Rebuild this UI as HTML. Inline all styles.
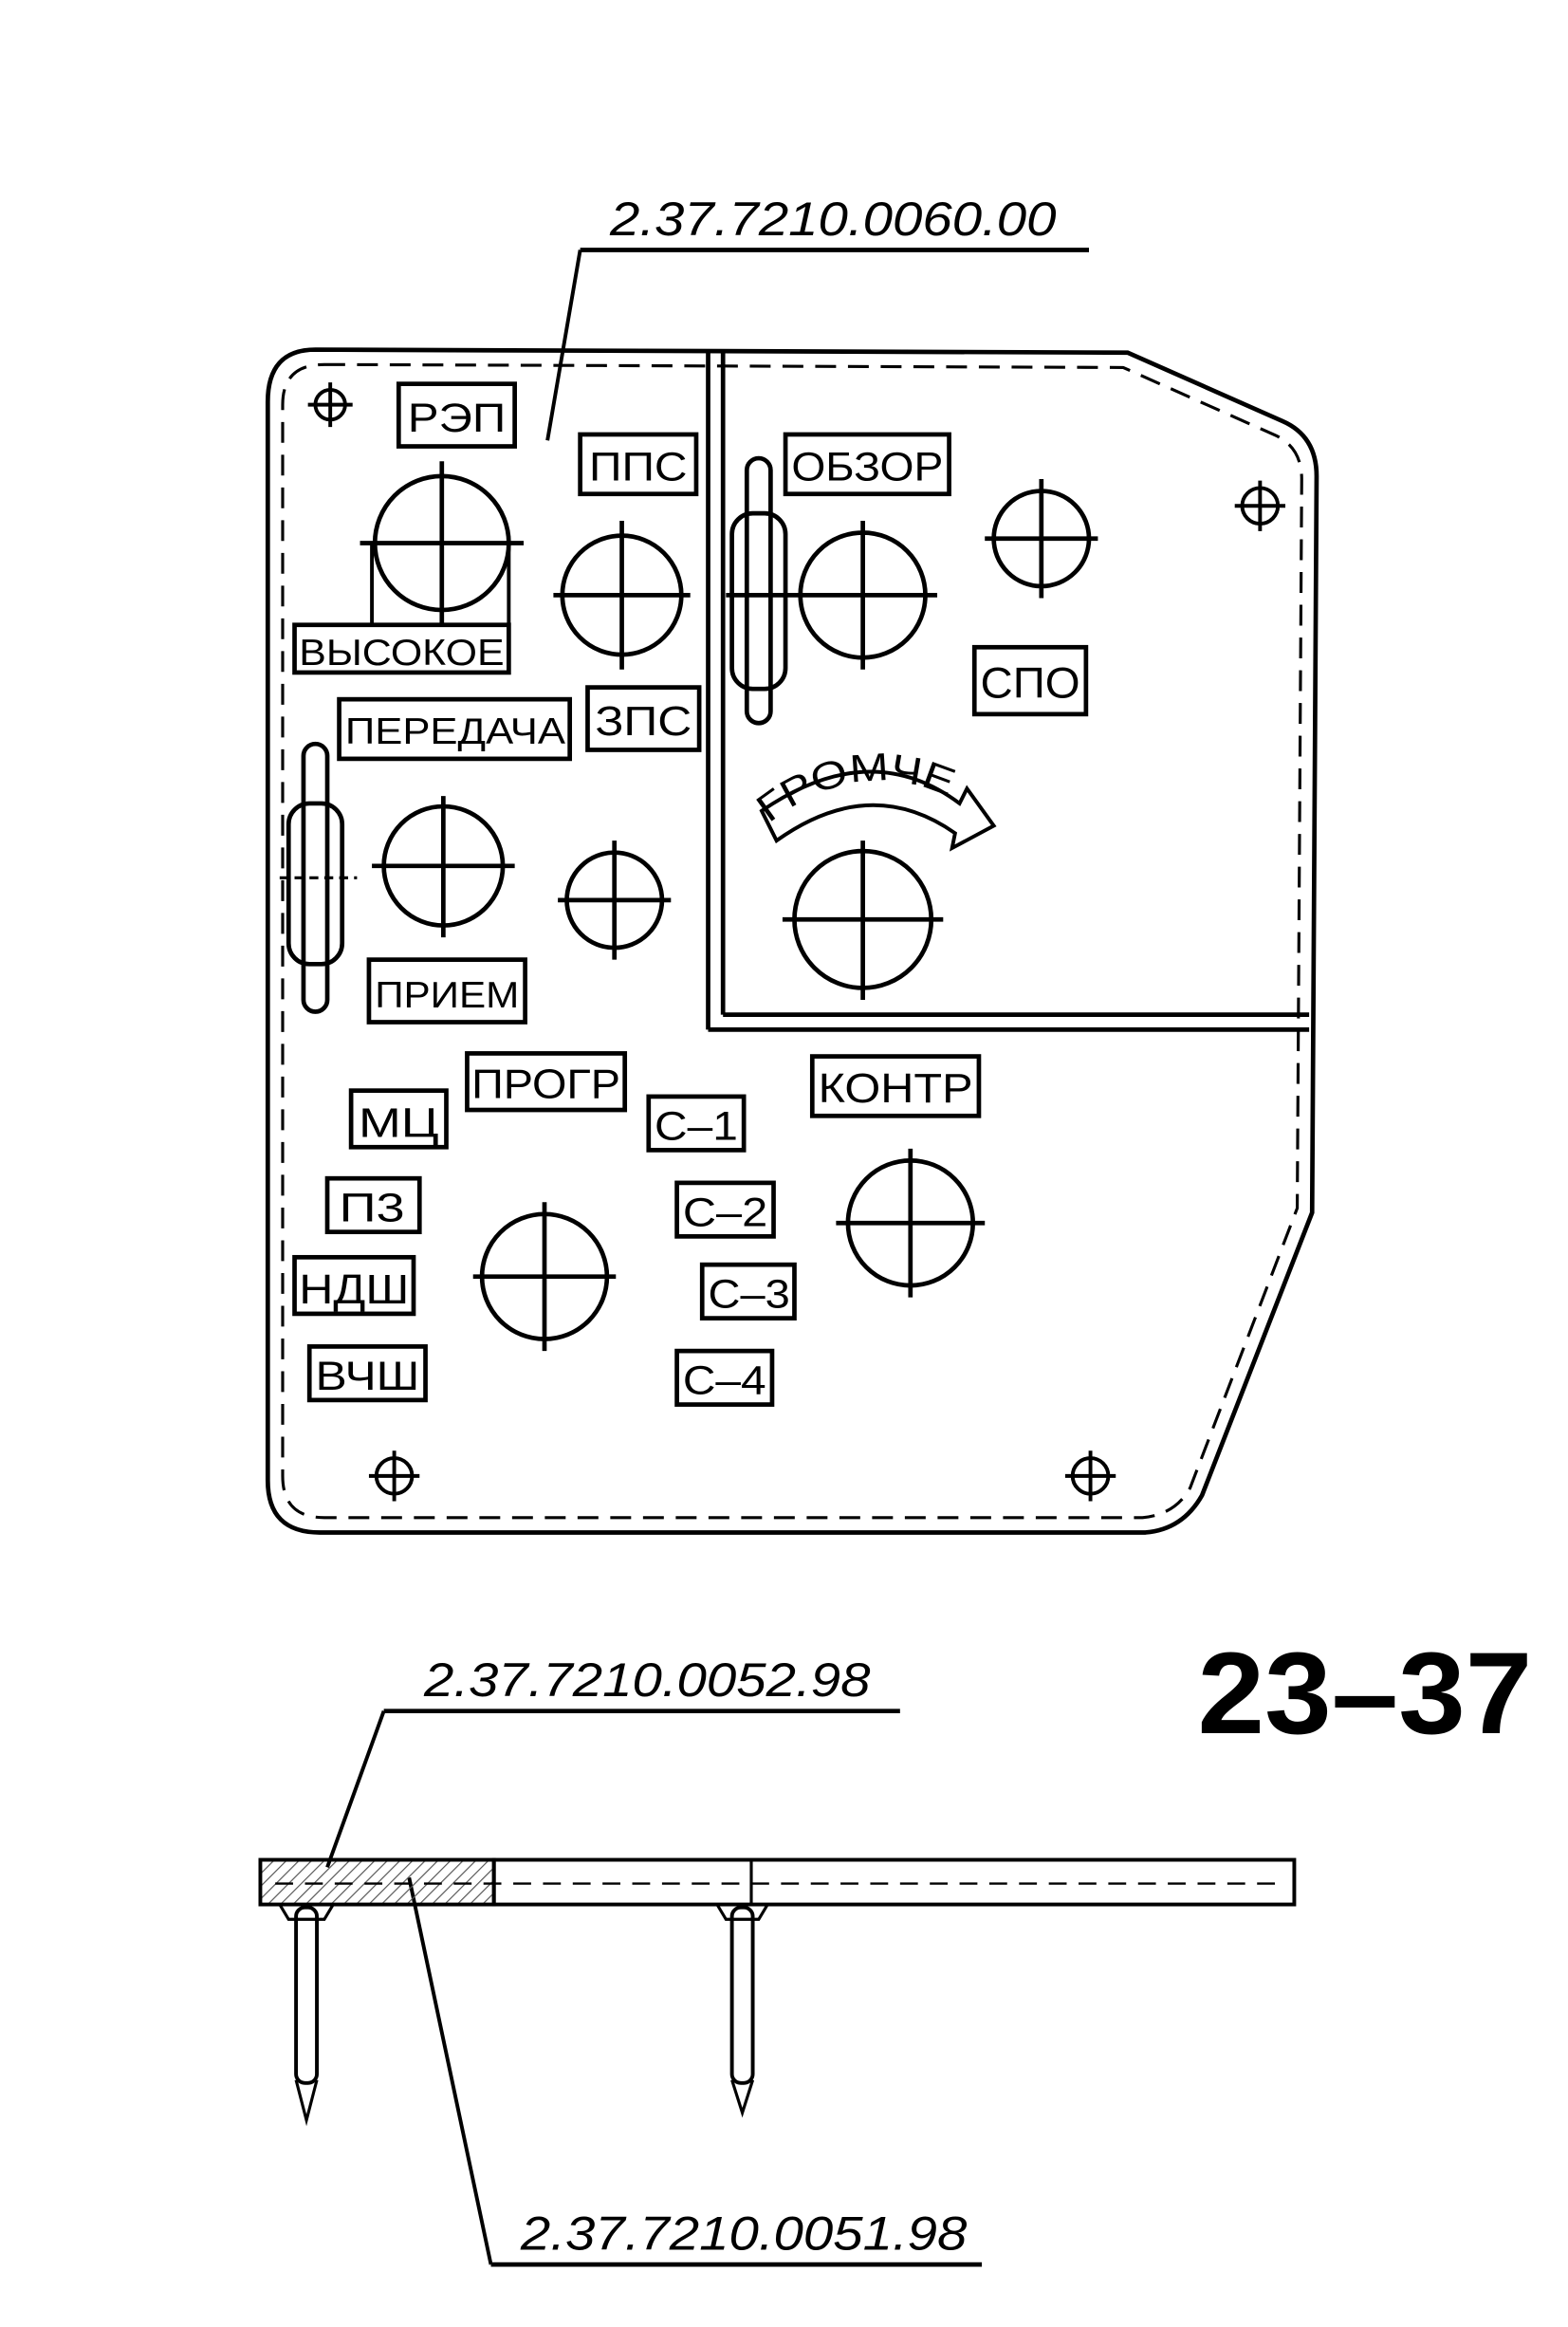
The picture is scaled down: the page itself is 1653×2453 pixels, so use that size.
<!DOCTYPE html>
<html><head><meta charset="utf-8"><style>
html,body{margin:0;padding:0;background:#fff}
svg{display:block}
text{font-family:"Liberation Sans","DejaVu Sans",sans-serif;fill:#000}
.it{font-style:italic;font-size:32px}
</style></head><body>
<svg width="1653" height="2453" viewBox="0 0 1054 1564" preserveAspectRatio="none" xmlns="http://www.w3.org/2000/svg">
<defs>
<pattern id="h" width="6" height="6" patternUnits="userSpaceOnUse" patternTransform="rotate(45)"><line x1="0" y1="0" x2="0" y2="6" stroke="#555" stroke-width="1.5"/></pattern>
<path id="arc" d="M515,555 Q585,498 660,548"/>
</defs>
<g fill="none" stroke="#000" stroke-width="3">
<line x1="390" y1="168" x2="732" y2="168"/>
<line x1="390" y1="168" x2="368" y2="296" stroke-width="2.5"/>
<path d="M212,235 L758,237 L862,283 Q885,293 885,320 L882,815 L808,1005 Q795,1028 770,1030 L215,1030 Q180,1030 180,995 L180,270 Q180,235 212,235 Z"/>
<path d="M218,245 L755,247 L856,292 Q875,300 875,322 L872,812 L800,1000 Q790,1018 768,1020 L218,1020 Q190,1020 190,992 L190,272 Q190,245 218,245 Z" stroke-width="2" stroke-dasharray="14,8"/>
<line x1="476" y1="237" x2="476" y2="692"/>
<line x1="486" y1="237" x2="486" y2="682"/>
<line x1="476" y1="692" x2="880" y2="692"/>
<line x1="486" y1="682" x2="880" y2="682"/>
<g stroke-width="3">
<circle cx="297" cy="365" r="45"/><line x1="297" y1="310" x2="297" y2="420"/><line x1="242" y1="365" x2="352" y2="365"/>
<circle cx="418" cy="400" r="40"/><line x1="418" y1="350" x2="418" y2="450"/><line x1="372" y1="400" x2="464" y2="400"/>
<circle cx="580" cy="400" r="42"/><line x1="580" y1="350" x2="580" y2="450"/><line x1="488" y1="400" x2="630" y2="400"/>
<circle cx="700" cy="362" r="32"/><line x1="700" y1="322" x2="700" y2="402"/><line x1="662" y1="362" x2="738" y2="362"/>
<circle cx="298" cy="582" r="40"/><line x1="298" y1="535" x2="298" y2="630"/><line x1="250" y1="582" x2="346" y2="582"/>
<circle cx="413" cy="605" r="32"/><line x1="413" y1="565" x2="413" y2="645"/><line x1="375" y1="605" x2="451" y2="605"/>
<circle cx="580" cy="618" r="46"/><line x1="580" y1="565" x2="580" y2="672"/><line x1="526" y1="618" x2="634" y2="618"/>
<circle cx="612" cy="822" r="42"/><line x1="612" y1="772" x2="612" y2="872"/><line x1="562" y1="822" x2="662" y2="822"/>
<circle cx="366" cy="858" r="42"/><line x1="366" y1="808" x2="366" y2="908"/><line x1="318" y1="858" x2="414" y2="858"/>
</g>
<g stroke-width="2.5">
<circle cx="222" cy="272" r="10"/><line x1="222" y1="257" x2="222" y2="287"/><line x1="207" y1="272" x2="237" y2="272"/>
<circle cx="847" cy="340" r="12"/><line x1="847" y1="323" x2="847" y2="357"/><line x1="830" y1="340" x2="864" y2="340"/>
<circle cx="265" cy="992" r="12"/><line x1="265" y1="975" x2="265" y2="1009"/><line x1="248" y1="992" x2="282" y2="992"/>
<circle cx="733" cy="992" r="12"/><line x1="733" y1="975" x2="733" y2="1009"/><line x1="716" y1="992" x2="750" y2="992"/>
</g>
<polyline points="250,365 250,420" stroke-width="2.5"/>
<polyline points="342,365 342,452" stroke-width="2.5"/>
<rect x="502" y="308" width="16" height="178" rx="8"/>
<rect x="492" y="345" width="36" height="118" rx="14"/>
<rect x="204" y="500" width="16" height="180" rx="8"/>
<rect x="194" y="540" width="36" height="108" rx="14"/>
<line x1="188" y1="590" x2="240" y2="590" stroke-width="2" stroke-dasharray="6,4"/>
<path d="M512,545 Q585,495 645,540 L650,530 L668,555 L640,570 L642,560 Q585,520 522,565 Z" stroke-width="2.5"/>
<rect x="268" y="258" width="78" height="42"/>
<rect x="390" y="292" width="78" height="40"/>
<rect x="528" y="292" width="110" height="40"/>
<rect x="198" y="420" width="144" height="32"/>
<rect x="228" y="470" width="155" height="40"/>
<rect x="395" y="462" width="75" height="42"/>
<rect x="655" y="435" width="75" height="45"/>
<rect x="248" y="645" width="105" height="42"/>
<rect x="314" y="708" width="106" height="38"/>
<rect x="236" y="733" width="64" height="38"/>
<rect x="436" y="737" width="64" height="36"/>
<rect x="546" y="710" width="112" height="40"/>
<rect x="220" y="792" width="62" height="36"/>
<rect x="455" y="795" width="65" height="36"/>
<rect x="198" y="845" width="80" height="38"/>
<rect x="472" y="850" width="62" height="36"/>
<rect x="208" y="905" width="78" height="36"/>
<rect x="455" y="908" width="64" height="36"/>
<line x1="258" y1="1150" x2="605" y2="1150"/>
<line x1="258" y1="1150" x2="220" y2="1255" stroke-width="2.5"/>
<line x1="330" y1="1522" x2="660" y2="1522"/>
<line x1="330" y1="1522" x2="275" y2="1262" stroke-width="2.5"/>
<rect x="332" y="1250" width="538" height="30" stroke-width="2.5"/>
<rect x="175" y="1250" width="157" height="30" fill="url(#h)" stroke-width="2.5"/>
<line x1="185" y1="1266" x2="865" y2="1266" stroke-width="1.5" stroke-dasharray="12,8"/>
<line x1="505" y1="1250" x2="505" y2="1280" stroke-width="2"/>
<rect x="199" y="1282" width="14" height="118" rx="6" stroke-width="2.5"/>
<path d="M199,1398 L206,1425 L213,1398" stroke-width="2"/>
<rect x="492" y="1282" width="14" height="118" rx="6" stroke-width="2.5"/>
<path d="M492,1398 L499,1420 L506,1398" stroke-width="2"/>
<path d="M188,1280 L194,1290 L218,1290 L224,1280" stroke-width="2"/>
<path d="M482,1280 L488,1290 L510,1290 L516,1280" stroke-width="2"/>
</g>
<g>
<text class="it" x="410" y="158" textLength="300" lengthAdjust="spacingAndGlyphs">2.37.7210.0060.00</text>
<text class="it" x="285" y="1140" textLength="300" lengthAdjust="spacingAndGlyphs">2.37.7210.0052.98</text>
<text class="it" x="350" y="1512" textLength="300" lengthAdjust="spacingAndGlyphs">2.37.7210.0051.98</text>
<text x="805" y="1165" style="font-size:78px;font-weight:bold" textLength="225" lengthAdjust="spacingAndGlyphs">23–37</text>
<text x="274" y="290" style="font-size:27px" textLength="66" lengthAdjust="spacingAndGlyphs">РЭП</text>
<text x="396" y="323" style="font-size:27px" textLength="66" lengthAdjust="spacingAndGlyphs">ППС</text>
<text x="532" y="323" style="font-size:27px" textLength="102" lengthAdjust="spacingAndGlyphs">ОБЗОР</text>
<text x="201" y="447" style="font-size:25px" textLength="138" lengthAdjust="spacingAndGlyphs">ВЫСОКОЕ</text>
<text x="232" y="500" style="font-size:25px" textLength="148" lengthAdjust="spacingAndGlyphs">ПЕРЕДАЧА</text>
<text x="400" y="494" style="font-size:28px" textLength="65" lengthAdjust="spacingAndGlyphs">ЗПС</text>
<text x="659" y="469" style="font-size:29px" textLength="67" lengthAdjust="spacingAndGlyphs">СПО</text>
<text x="252" y="677" style="font-size:25px" textLength="97" lengthAdjust="spacingAndGlyphs">ПРИЕМ</text>
<text x="317" y="738" style="font-size:28px" textLength="100" lengthAdjust="spacingAndGlyphs">ПРОГР</text>
<text x="241" y="764" style="font-size:28px" textLength="54" lengthAdjust="spacingAndGlyphs">МЦ</text>
<text x="440" y="766" style="font-size:27px" textLength="56" lengthAdjust="spacingAndGlyphs">С–1</text>
<text x="550" y="741" style="font-size:28px" textLength="104" lengthAdjust="spacingAndGlyphs">КОНТР</text>
<text x="228" y="821" style="font-size:27px" textLength="44" lengthAdjust="spacingAndGlyphs">П3</text>
<text x="459" y="824" style="font-size:27px" textLength="57" lengthAdjust="spacingAndGlyphs">С–2</text>
<text x="201" y="876" style="font-size:28px" textLength="74" lengthAdjust="spacingAndGlyphs">НДШ</text>
<text x="476" y="879" style="font-size:27px" textLength="55" lengthAdjust="spacingAndGlyphs">С–3</text>
<text x="212" y="934" style="font-size:27px" textLength="70" lengthAdjust="spacingAndGlyphs">ВЧШ</text>
<text x="459" y="937" style="font-size:27px" textLength="56" lengthAdjust="spacingAndGlyphs">С–4</text>
<text style="font-size:26px"><textPath href="#arc" startOffset="2" textLength="130" lengthAdjust="spacingAndGlyphs">ГРОМЧЕ</textPath></text>
</g>
</svg>
</body></html>
